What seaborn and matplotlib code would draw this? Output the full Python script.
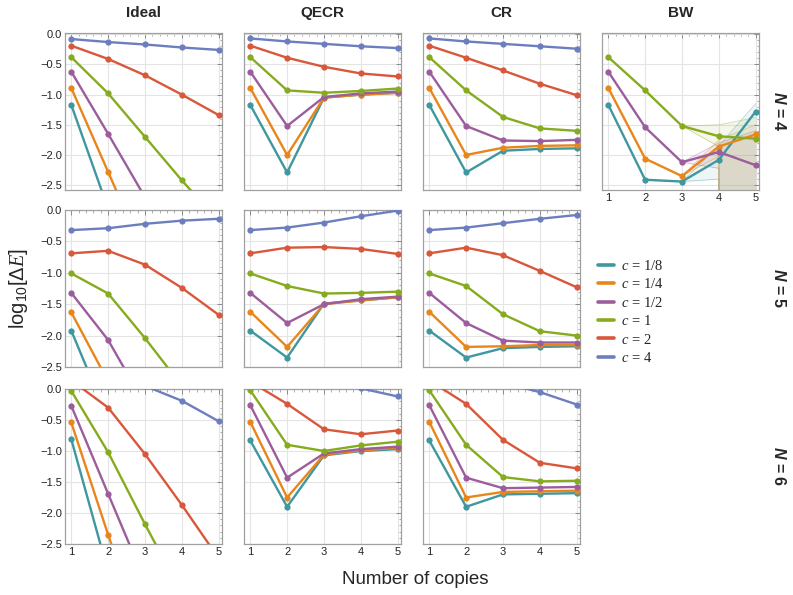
import numpy as np
import pandas as pd
import matplotlib
matplotlib.use("Agg")
import matplotlib.pyplot as plt
from matplotlib.lines import Line2D
from matplotlib.ticker import MultipleLocator, FuncFormatter
import seaborn as sns

sns.set_theme(style="white")
plt.rcParams["font.family"] = ["Liberation Sans", "DejaVu Sans"]
plt.rcParams["mathtext.fontset"] = "custom"
plt.rcParams["mathtext.rm"] = "Liberation Sans"
plt.rcParams["mathtext.it"] = "Liberation Serif:italic"
plt.rcParams["mathtext.bf"] = "Liberation Sans:bold"
plt.rcParams["mathtext.bfit"] = "Liberation Sans:italic:bold"

# ---------------- data ----------------
copies = [1, 2, 3, 4, 5]
c_labels = ["1/8", "1/4", "1/2", "1", "2", "4"]
colors = ["#3f979f", "#e8861b", "#9c5d9d", "#86ab1e", "#d9573a", "#6d7ebf"]
methods = ["Ideal", "QECR", "CR", "BW"]
n_values = [4, 5, 6]

ideal_N4 = {"1/8": [-1.17, -2.89, -4.60, -6.30, -8.00],
            "1/4": [-0.89, -2.28, -3.67, -5.05, -6.40],
            "1/2": [-0.62, -1.65, -2.70, -3.75, -4.80],
            "1":   [-0.38, -0.98, -1.70, -2.42, -3.10],
            "2":   [-0.19, -0.41, -0.68, -1.00, -1.34],
            "4":   [-0.08, -0.13, -0.17, -0.22, -0.26]}
qecr_N4 = {"1/8": [-1.17, -2.29, -1.05, -1.00, -0.97],
           "1/4": [-0.89, -2.00, -1.05, -1.00, -0.97],
           "1/2": [-0.62, -1.52, -1.04, -0.98, -0.95],
           "1":   [-0.38, -0.93, -0.97, -0.94, -0.90],
           "2":   [-0.19, -0.39, -0.54, -0.65, -0.70],
           "4":   [-0.07, -0.12, -0.16, -0.20, -0.23]}
cr_N4 = {"1/8": [-1.17, -2.29, -1.93, -1.90, -1.89],
         "1/4": [-0.89, -2.00, -1.88, -1.85, -1.84],
         "1/2": [-0.62, -1.52, -1.76, -1.77, -1.75],
         "1":   [-0.38, -0.93, -1.37, -1.56, -1.60],
         "2":   [-0.19, -0.39, -0.60, -0.82, -1.01],
         "4":   [-0.07, -0.12, -0.16, -0.20, -0.24]}
bw_N4 = {"1/8": [-1.17, -2.41, -2.44, -2.08, -1.28],
         "1/4": [-0.89, -2.06, -2.35, -1.86, -1.66],
         "1/2": [-0.62, -1.54, -2.12, -1.95, -2.17],
         "1":   [-0.38, -0.93, -1.52, -1.69, -1.73]}
# uncertainty bands of BW (x = 3, 4, 4, 5)
band_x = [3, 4, 4, 5]
bw_band_lo = {"1/8": [-2.44, -2.40, -2.70, -2.70],
              "1/4": [-2.35, -2.02, -2.70, -2.70],
              "1/2": [-2.12, -2.22, -2.70, -2.70],
              "1":   [-1.52, -1.86, -2.70, -2.70]}
bw_band_hi = {"1/8": [-2.44, -1.85, -1.85, -1.15],
              "1/4": [-2.35, -1.75, -1.75, -1.50],
              "1/2": [-2.12, -1.80, -1.80, -1.60],
              "1":   [-1.52, -1.50, -1.50, -1.38]}

ideal_N5 = {"1/8": [-1.92, -3.33, -4.70, -6.10, -7.50],
            "1/4": [-1.63, -2.73, -3.80, -4.90, -6.00],
            "1/2": [-1.32, -2.07, -3.10, -4.10, -5.10],
            "1":   [-1.01, -1.33, -2.04, -2.80, -3.60],
            "2":   [-0.69, -0.65, -0.87, -1.24, -1.67],
            "4":   [-0.32, -0.29, -0.22, -0.17, -0.14]}
qecr_N5 = {"1/8": [-1.92, -2.35, -1.49, -1.44, -1.39],
           "1/4": [-1.62, -2.18, -1.50, -1.44, -1.39],
           "1/2": [-1.32, -1.80, -1.50, -1.42, -1.38],
           "1":   [-1.01, -1.21, -1.33, -1.32, -1.30],
           "2":   [-0.69, -0.60, -0.59, -0.62, -0.70],
           "4":   [-0.32, -0.28, -0.20, -0.10, -0.01]}
cr_N5 = {"1/8": [-1.92, -2.35, -2.20, -2.18, -2.17],
         "1/4": [-1.62, -2.18, -2.17, -2.15, -2.15],
         "1/2": [-1.32, -1.80, -2.08, -2.11, -2.11],
         "1":   [-1.01, -1.21, -1.66, -1.93, -2.00],
         "2":   [-0.69, -0.60, -0.72, -0.97, -1.23],
         "4":   [-0.32, -0.28, -0.21, -0.14, -0.08]}

ideal_N6 = {"1/8": [-0.81, -2.95, -5.10, -7.20, -9.30],
            "1/4": [-0.54, -2.35, -4.10, -5.90, -7.70],
            "1/2": [-0.27, -1.69, -3.10, -4.50, -5.90],
            "1":   [-0.03, -1.02, -2.18, -3.30, -4.30],
            "2":   [0.14, -0.30, -1.05, -1.87, -2.73],
            "4":   [0.50, 0.30, 0.05, -0.19, -0.52]}
qecr_N6 = {"1/8": [-0.83, -1.90, -1.07, -1.00, -0.97],
           "1/4": [-0.53, -1.75, -1.06, -0.99, -0.95],
           "1/2": [-0.26, -1.43, -1.04, -0.97, -0.93],
           "1":   [-0.02, -0.90, -1.00, -0.91, -0.85],
           "2":   [0.12, -0.24, -0.65, -0.73, -0.67],
           "4":   [0.45, 0.30, 0.15, 0.01, -0.12]}
cr_N6 = {"1/8": [-0.83, -1.90, -1.70, -1.69, -1.68],
         "1/4": [-0.53, -1.75, -1.66, -1.65, -1.64],
         "1/2": [-0.26, -1.43, -1.60, -1.59, -1.58],
         "1":   [-0.02, -0.90, -1.42, -1.49, -1.48],
         "2":   [0.14, -0.24, -0.82, -1.19, -1.28],
         "4":   [0.35, 0.25, 0.10, -0.05, -0.25]}

panels = {(4, "Ideal"): ideal_N4, (4, "QECR"): qecr_N4, (4, "CR"): cr_N4, (4, "BW"): bw_N4,
          (5, "Ideal"): ideal_N5, (5, "QECR"): qecr_N5, (5, "CR"): cr_N5,
          (6, "Ideal"): ideal_N6, (6, "QECR"): qecr_N6, (6, "CR"): cr_N6}

rows = []
for (n, m), d in panels.items():
    for c, vals in d.items():
        for k, v in zip(copies, vals):
            rows.append({"N": n, "method": m, "c": c, "copies": k, "value": v})
df = pd.DataFrame(rows)
pal = dict(zip(c_labels, colors))

# ---------------- figure ----------------
W, H = 793, 595
fig = plt.figure(figsize=(W / 100, H / 100), dpi=100)

col_left = [65, 244, 423, 602]
row_top = [33, 210, 389]
row_h = [157, 157, 155]
aw = 157
ylims = {4: (-2.58, 0.02), 5: (-2.5, 0.0), 6: (-2.5, 0.0)}

def add_ax(x0, y0, w, h):
    return fig.add_axes([x0 / W, 1 - (y0 + h) / H, w / W, h / H])

yfmt = FuncFormatter(lambda v, p: ("%.1f" % v).replace("-", "\u2212") if abs(v) > 1e-9 else "0.0")

for ri, n in enumerate(n_values):
    for ci, m in enumerate(methods):
        if (n, m) not in panels:
            continue
        ax = add_ax(col_left[ci], row_top[ri], aw, row_h[ri])
        sub = df[(df.N == n) & (df.method == m)]
        order = [c for c in c_labels if c in sub.c.unique()]
        if m == "BW":
            for c in order:
                ax.fill_between(band_x, bw_band_lo[c], bw_band_hi[c],
                                color=pal[c], alpha=0.09, linewidth=0, zorder=1)
                ax.plot(band_x, bw_band_lo[c], color=pal[c], alpha=0.4, lw=0.6, zorder=1)
                ax.plot(band_x, bw_band_hi[c], color=pal[c], alpha=0.4, lw=0.6, zorder=1)
        sns.lineplot(data=sub, x="copies", y="value", hue="c", hue_order=order,
                     palette=pal, marker="o", markersize=4.5, markeredgewidth=0,
                     linewidth=1.7, errorbar=None, legend=False, ax=ax, zorder=3)
        ax.set_xlim(0.83, 5.09)
        ax.set_ylim(*ylims[n])
        ax.xaxis.set_major_locator(MultipleLocator(1))
        ax.xaxis.set_minor_locator(MultipleLocator(0.2))
        ax.yaxis.set_major_locator(MultipleLocator(0.5))
        ax.yaxis.set_minor_locator(MultipleLocator(0.1))
        ax.grid(True, which="major", color="#e4e4e4", lw=0.8)
        ax.set_axisbelow(True)
        ax.set_xlabel("")
        ax.set_ylabel("")
        for s in ax.spines.values():
            s.set_color("#a0a0a0")
            s.set_linewidth(0.9)
        ax.tick_params(which="both", direction="in", top=True, right=True,
                       color="#8a8a8a", labelsize=8, labelcolor="#222222", pad=2)
        ax.tick_params(which="major", length=3.5, width=0.7)
        ax.tick_params(which="minor", length=1.8, width=0.5)
        ax.tick_params(labelleft=(ci == 0),
                       labelbottom=(ri == 2 or m == "BW"))
        ax.yaxis.set_major_formatter(yfmt)

# column titles
for ci, m in enumerate(methods):
    fig.text((col_left[ci] + aw / 2) / W, 1 - 13 / H, m, ha="center", va="center",
             fontsize=11, fontweight="bold")

# row labels
for ri, n in enumerate(n_values):
    yc = row_top[ri] + row_h[ri] / 2
    fig.text(779 / W, 1 - yc / H, r"$\mathbfit{N}$ = %d" % n, rotation=270,
             ha="center", va="center", fontsize=11.5, fontweight="bold")

fig.text(19 / W, 1 - 289 / H, r"$\mathrm{log}_{10}[\Delta \mathit{E}]$", rotation=90,
         ha="center", va="center", fontsize=14.5)
fig.text(415 / W, 1 - 580 / H, "Number of copies", ha="center", va="center", fontsize=13.5)

handles = [Line2D([0], [0], color=pal[c], lw=2.6) for c in c_labels]
labels = [r"$c$ = " + c for c in c_labels]
fig.legend(handles, labels, loc="upper left", bbox_to_anchor=(598 / W, 1 - 259 / H),
           frameon=False, handlelength=1.1, handletextpad=0.5, labelspacing=0.3,
           prop={"family": "Liberation Serif", "size": 10.5}, borderaxespad=0, borderpad=0)

fig.savefig("out.png", dpi=100)
